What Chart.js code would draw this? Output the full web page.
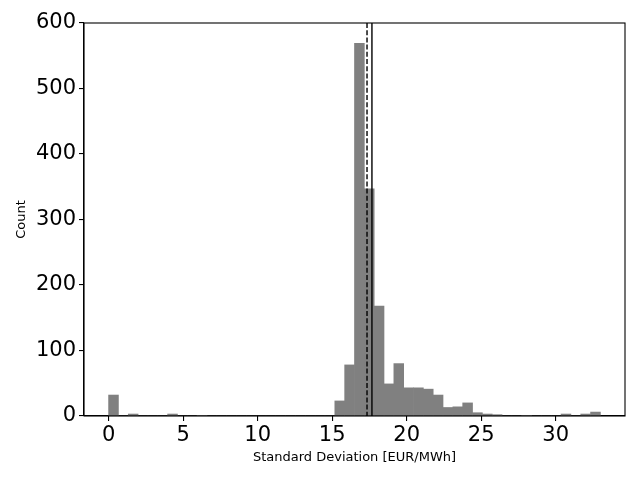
<!DOCTYPE html>
<html>
<head>
<meta charset="utf-8">
<script src="https://cdn.jsdelivr.net/npm/chart.js@4/dist/chart.umd.min.js"></script>
<style>
  html, body { margin: 0; padding: 0; background: #fff; }
</style>
</head>
<body>
<canvas id="hist" width="640" height="480"></canvas>
<script>
// histogram bins (left edges) and counts
const binWidth = 0.66;
const binStarts = [
  0, 0.66, 1.32, 1.98, 2.64, 3.3, 3.96, 4.62, 5.28, 5.94,
  6.6, 7.26, 7.92, 8.58, 9.24, 9.9, 10.56, 11.22, 11.88, 12.54,
  13.2, 13.86, 14.52, 15.18, 15.84, 16.5, 17.16, 17.82, 18.48, 19.14,
  19.8, 20.46, 21.12, 21.78, 22.44, 23.1, 23.76, 24.42, 25.08, 25.74,
  26.4, 27.06, 27.72, 28.38, 29.04, 29.7, 30.36, 31.02, 31.68, 32.34
];
const counts = [
  32, 0, 3, 0, 0, 0, 3, 0, 0, 1,
  0, 0, 0, 0, 0, 0, 0, 0, 0, 0,
  0, 0, 0, 23, 78, 569, 347, 168, 49, 80,
  43, 43, 41, 32, 13, 14, 20, 5, 3, 2,
  0, 0, 1, 0, 0, 0, 3, 0, 3, 6
];
const dashedLineAt = 17.34;   // dashed marker
const solidLineAt = 17.67;    // solid marker
const xTicks = [0, 5, 10, 15, 20, 25, 30];
const yTicks = [0, 100, 200, 300, 400, 500, 600];

const font = "'DejaVu Sans', sans-serif";

const markers = {
  id: 'markers',
  afterDatasetsDraw(chart) {
    const { ctx, chartArea: a, scales } = chart;
    ctx.save();
    ctx.strokeStyle = '#000';
    ctx.lineWidth = 1.4;
    ctx.setLineDash([5, 2.2]);
    let px = scales.x.getPixelForValue(dashedLineAt);
    ctx.beginPath(); ctx.moveTo(px, a.top); ctx.lineTo(px, a.bottom); ctx.stroke();
    ctx.setLineDash([]);
    px = scales.x.getPixelForValue(solidLineAt);
    ctx.beginPath(); ctx.moveTo(px, a.top); ctx.lineTo(px, a.bottom); ctx.stroke();
    // frame
    ctx.lineWidth = 1.1;
    ctx.strokeRect(a.left, a.top, a.right - a.left, a.bottom - a.top);
    ctx.restore();
  }
};

new Chart(document.getElementById('hist'), {
  type: 'bar',
  data: {
    datasets: [{
      data: binStarts.map((s, i) => ({ x: s + binWidth / 2, y: counts[i] })),
      backgroundColor: '#808080',
      borderWidth: 0,
      barPercentage: 1,
      categoryPercentage: 1
    }]
  },
  options: {
    responsive: false,
    animation: false,
    events: [],
    layout: { padding: { top: 23, right: 15, left: 0, bottom: 0 } },
    plugins: { legend: { display: false }, tooltip: { enabled: false } },
    scales: {
      x: {
        type: 'linear',
        offset: false,
        min: -1.65,
        max: 34.65,
        afterBuildTicks: s => { s.ticks = xTicks.map(v => ({ value: v })); },
        afterFit: s => { s.height = 64; },
        grid: { offset: false, drawOnChartArea: false, drawTicks: true, tickLength: 5, color: '#000', lineWidth: 1.1 },
        border: { display: true, color: '#000', width: 1.1 },
        ticks: { color: '#000', font: { family: font, size: 21 }, padding: 2, maxRotation: 0 },
        title: { display: true, text: 'Standard Deviation [EUR/MWh]', color: '#000', font: { family: font, size: 13 }, padding: { top: 0, bottom: 15 } }
      },
      y: {
        min: 0,
        max: 600,
        afterBuildTicks: s => { s.ticks = yTicks.map(v => ({ value: v })); },
        afterFit: s => { s.width = 84; },
        grid: { drawOnChartArea: false, drawTicks: true, tickLength: 5, color: '#000', lineWidth: 1.1 },
        border: { display: true, color: '#000', width: 1.1 },
        ticks: { color: '#000', font: { family: font, size: 21 }, padding: 3 },
        title: { display: true, text: 'Count', color: '#000', font: { family: font, size: 13 }, padding: { top: 14, bottom: 0 } }
      }
    }
  },
  plugins: [markers]
});
</script>
</body>
</html>
